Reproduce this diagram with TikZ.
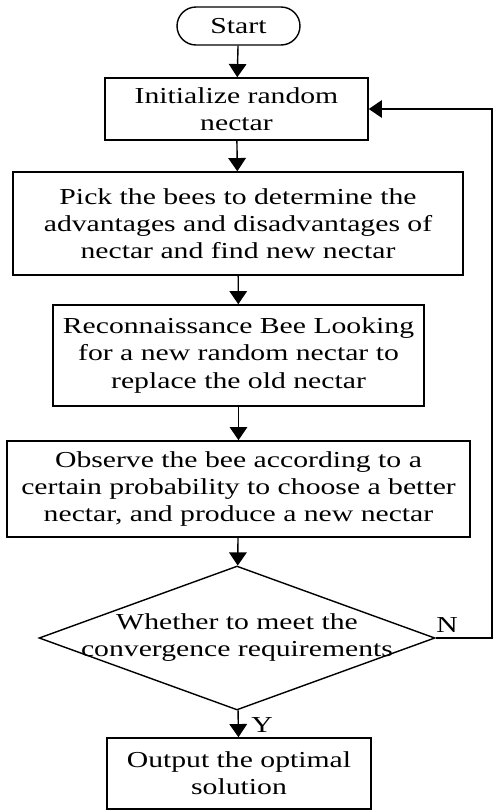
\documentclass[tikz,border=0pt]{standalone}
\usepackage{fontspec}
\setmainfont{Liberation Serif}[FakeStretch=1.3]
\usetikzlibrary{shapes.geometric,shapes.misc,arrows.meta,positioning}
\tikzset{
  boxtext/.style={font=\fontsize{13}{15.4}\selectfont, align=center},
  terminal/.style={boxtext, draw, rounded rectangle, line width=0.8pt, inner sep=0pt},
  process/.style={boxtext, draw, rectangle, line width=0.9pt, inner sep=0pt},
  decision/.style={draw, diamond, line width=0.8pt, inner sep=0pt},
  flow/.style={line width=0.8pt, -{Triangle[width=10pt,length=7.5pt]}},
}

\begin{document}
\begin{tikzpicture}[x=0.02cm, y=-0.02cm]
    \useasboundingbox (0,0) rectangle (493,812);
    % steps
    \node[terminal, minimum width=2.46cm, minimum height=0.76cm] (start) at (238.5,26) {Start};
    \node[process, minimum width=5.26cm, minimum height=1.24cm] (init) at (236.5,109)
        {Initialize random\\nectar};
    \node[process, minimum width=9.0cm, minimum height=2.06cm] (pick) at (238,223.5)
        {Pick the bees to determine the\\advantages and disadvantages of\\nectar and find new nectar};
    \node[process, minimum width=7.42cm, minimum height=2.02cm] (recon) at (238.5,355.5)
        {Reconnaissance Bee Looking\\for a new random nectar to\\replace the old nectar};
    \node[process, minimum width=9.26cm, minimum height=1.92cm] (observe) at (238.5,489)
        {Observe the bee according to a\\certain probability to choose a better\\nectar, and produce a new nectar};
    \node[decision, minimum width=7.92cm, minimum height=2.88cm] (check) at (237,638) {};
    \node[boxtext] (checktext) at (check) {Whether to meet the\\convergence requirements};
    \node[process, minimum width=5.28cm, minimum height=1.42cm] (output) at (239,773.5)
        {Output the optimal\\solution};
    % loop corner
    \coordinate (loop) at (492,638);
    % edge labels
    \node[boxtext] (no) at (447,625) {N};
    \node[boxtext] (yes) at (262,725) {Y};
    % connectors
    \draw[flow] (start) -- (init);
    \draw[flow] (init) -- (pick);
    \draw[flow] (pick) -- (recon);
    \draw[flow] (recon) -- (observe);
    \draw[flow] (observe) -- (check);
    \draw[flow] (check) -- (output);
    \draw[flow] (check.east) -- (loop) |- (init.east);
\end{tikzpicture}
\end{document}
